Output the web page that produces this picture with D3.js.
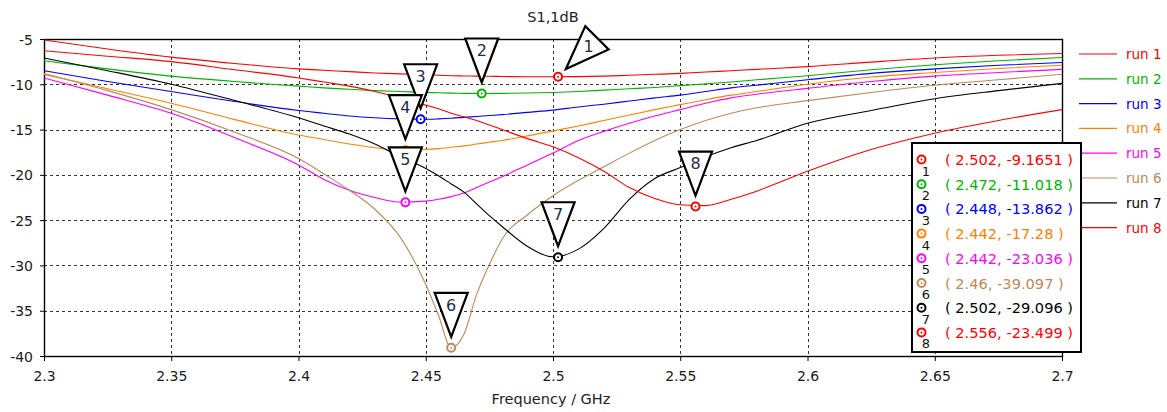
<!DOCTYPE html>
<html><head><meta charset="utf-8">
<script src="https://cdn.jsdelivr.net/npm/d3@7"></script>
<style>
html,body{margin:0;padding:0;background:#fff;}
svg{display:block;font-family:"DejaVu Sans",sans-serif;}
</style></head>
<body><svg id="chart" width="1167" height="412"></svg>
<script>
const freq = [2.30, 2.325, 2.35, 2.375, 2.40, 2.41, 2.42, 2.43, 2.44, 2.45, 2.455, 2.46, 2.465, 2.47, 2.475, 2.48, 2.49, 2.50, 2.51, 2.52, 2.53, 2.54, 2.55, 2.56, 2.57, 2.58, 2.60, 2.625, 2.65, 2.675, 2.70];
const run1 = [-5.1, -6.1, -7.0, -7.7, -8.3, -8.45, -8.6, -8.75, -8.85, -8.95, -9.0, -9.05, -9.08, -9.1, -9.12, -9.14, -9.16, -9.165, -9.15, -9.1, -9.0, -8.9, -8.8, -8.65, -8.5, -8.35, -8.05, -7.55, -7.1, -6.8, -6.6];
const run2 = [-7.4, -8.3, -9.1, -9.7, -10.2, -10.4, -10.55, -10.7, -10.8, -10.9, -10.94, -10.98, -11.0, -11.01, -11.018, -11.0, -10.97, -10.9, -10.8, -10.65, -10.5, -10.35, -10.15, -9.95, -9.75, -9.5, -9.05, -8.4, -7.85, -7.4, -7.05];
const run3 = [-8.5, -9.7, -10.8, -11.9, -12.9, -13.2, -13.5, -13.7, -13.82, -13.86, -13.82, -13.75, -13.65, -13.55, -13.45, -13.35, -13.1, -12.85, -12.5, -12.2, -11.85, -11.5, -11.2, -10.8, -10.4, -10.1, -9.5, -8.8, -8.3, -7.9, -7.6];
const run4 = [-8.9, -10.5, -12.1, -13.9, -15.6, -16.1, -16.6, -17.0, -17.27, -17.2, -17.1, -16.95, -16.8, -16.6, -16.4, -16.2, -15.7, -15.15, -14.6, -14.0, -13.4, -12.8, -12.25, -11.7, -11.2, -10.8, -10.0, -9.2, -8.7, -8.25, -7.9];
const run5 = [-9.3, -11.2, -13.2, -15.9, -18.9, -20.5, -21.7, -22.5, -23.0, -22.9, -22.7, -22.4, -22.0, -21.4, -20.8, -20.2, -18.9, -17.6, -16.2, -15.2, -14.3, -13.5, -12.8, -12.1, -11.5, -11.1, -10.45, -9.7, -9.1, -8.7, -8.35];
const run6 = [-8.8, -10.7, -12.8, -15.3, -18.2, -19.9, -21.7, -23.8, -26.9, -32.1, -35.5, -39.1, -37.6, -33.2, -29.9, -27.1, -24.4, -22.3, -20.6, -19.1, -17.6, -16.2, -15.0, -14.0, -13.2, -12.6, -11.8, -10.9, -10.1, -9.5, -8.9];
const run7 = [-7.1, -8.5, -10.0, -11.8, -13.7, -14.6, -15.5, -16.6, -18.0, -19.3, -20.1, -21.0, -21.9, -23.2, -24.5, -25.7, -27.9, -29.05, -28.2, -25.9, -22.7, -20.4, -19.2, -18.0, -17.0, -16.2, -14.3, -12.9, -11.6, -10.7, -9.9];
const run8 = [-6.3, -6.9, -7.5, -8.4, -9.3, -9.75, -10.2, -10.8, -11.5, -12.3, -12.7, -13.2, -13.6, -14.0, -14.5, -15.0, -16.0, -16.9, -18.1, -19.6, -21.4, -22.6, -23.3, -23.4, -22.7, -21.8, -19.6, -17.2, -15.4, -14.0, -12.8];
const runs = [run1, run2, run3, run4, run5, run6, run7, run8];
const runNames = ["run 1", "run 2", "run 3", "run 4", "run 5", "run 6", "run 7", "run 8"];
const runColors = ["#ff0000", "#00b400", "#0000ff", "#ff8000", "#ff00ff", "#bc8a58", "#000000", "#ff0000"];

const markerFreq = [2.502, 2.472, 2.448, 2.442, 2.442, 2.46, 2.502, 2.556];
const markerVal = [-9.1651, -11.018, -13.862, -17.28, -23.036, -39.097, -29.096, -23.499];
const markerAngle = [45, 0, 0, 0, 0, 0, 0, 0];

const xTicks = [2.3, 2.35, 2.4, 2.45, 2.5, 2.55, 2.6, 2.65, 2.7];
const yTicks = [-5, -10, -15, -20, -25, -30, -35, -40];
const titleText = "S1,1dB";
const xLabel = "Frequency / GHz";

const svg = d3.select("#chart");
const L = 44, R = 1062, T = 39, B = 356;
const x = d3.scaleLinear([2.3, 2.7], [L, R]);
const y = d3.scaleLinear([-5, -40], [T, B]);

// grid
const grid = svg.append("g");
grid.selectAll("line.gx").data(xTicks.slice(1, -1)).join("line")
  .attr("x1", d => Math.round(x(d)) + 0.5).attr("x2", d => Math.round(x(d)) + 0.5)
  .attr("y1", T).attr("y2", B)
  .attr("stroke", "#333").attr("stroke-width", 1).attr("stroke-dasharray", "3,3");
grid.selectAll("line.gy").data(yTicks.slice(1, -1)).join("line")
  .attr("y1", d => Math.round(y(d)) + 0.5).attr("y2", d => Math.round(y(d)) + 0.5)
  .attr("x1", L).attr("x2", R)
  .attr("stroke", "#333").attr("stroke-width", 1).attr("stroke-dasharray", "3,3");

// axes
const xAxis = svg.append("g").attr("transform", `translate(0,${B})`)
  .call(d3.axisBottom(x).tickValues(xTicks).tickFormat(d => String(d)).tickSize(5).tickPadding(10));
const yAxis = svg.append("g").attr("transform", `translate(${L},0)`)
  .call(d3.axisLeft(y).tickValues(yTicks).tickFormat(d => String(d)).tickSize(4).tickPadding(7));
[xAxis, yAxis].forEach(g => {
  g.select(".domain").remove();
  g.selectAll(".tick line").attr("stroke", "#000");
  g.selectAll(".tick text").attr("fill", "#1a1a1a").style("font-size", "14px").style("font-family", "DejaVu Sans");
});
yAxis.selectAll(".tick text").attr("dy", "0.36em");

// frame
svg.append("rect").attr("x", L + 0.5).attr("y", T + 0.5).attr("width", R - L).attr("height", B - T)
  .attr("fill", "none").attr("stroke", "#000").attr("stroke-width", 1.4);

// curves
const line = d3.line().x(d => x(d[0])).y(d => y(d[1])).curve(d3.curveMonotoneX);
svg.append("clipPath").attr("id", "plotclip").append("rect")
  .attr("x", L).attr("y", T).attr("width", R - L).attr("height", B - T);
const curves = svg.append("g").attr("clip-path", "url(#plotclip)");
runs.forEach((vals, i) => {
  curves.append("path").datum(freq.map((f, k) => [f, vals[k]]))
    .attr("d", line).attr("fill", "none").attr("stroke", runColors[i]).attr("stroke-width", 1.1);
});

// legend
const legend = svg.append("g");
runNames.forEach((n, i) => {
  const ly = 54 + i * 24.8;
  legend.append("line").attr("x1", 1079).attr("x2", 1117).attr("y1", ly).attr("y2", ly)
    .attr("stroke", runColors[i]).attr("stroke-width", 1.2);
  legend.append("text").attr("x", 1126).attr("y", ly + 5).text(n)
    .attr("fill", runColors[i]).style("font-size", "13.5px");
});

// markers
function markerIcon(g, cx, cy, color) {
  g.append("circle").attr("cx", cx).attr("cy", cy).attr("r", 4).attr("fill", "#fff")
    .attr("stroke", color).attr("stroke-width", 2);
  g.append("circle").attr("cx", cx).attr("cy", cy).attr("r", 1).attr("fill", color);
}
const mk = svg.append("g");
markerFreq.forEach((f, i) => markerIcon(mk, x(f), y(markerVal[i]), runColors[i]));

// callout triangles
markerFreq.forEach((f, i) => {
  const mx = x(f), my = y(markerVal[i]);
  const g = svg.append("g").attr("transform", `translate(${mx},${my}) rotate(${markerAngle[i]})`);
  g.append("path").attr("d", "M0,-11 L-16.5,-55 L16.5,-55 Z")
    .attr("fill", "#fff").attr("stroke", "#000").attr("stroke-width", 2.2).attr("stroke-linejoin", "miter");
  const a = markerAngle[i] * Math.PI / 180;
  const lx = mx + Math.sin(a) * 43, ly = my - Math.cos(a) * 43;
  svg.append("text").attr("x", lx).attr("y", ly).attr("dy", "0.36em").attr("text-anchor", "middle")
    .attr("fill", "#1f2d4a").style("font-size", "16px").text(String(i + 1));
});

// marker box
const box = svg.append("g");
box.append("rect").attr("x", 912).attr("y", 143).attr("width", 169).attr("height", 209)
  .attr("fill", "#fff").attr("stroke", "#000").attr("stroke-width", 2);
markerFreq.forEach((f, i) => {
  const ry = 159.5 + i * 24.7;
  markerIcon(box, 921.5, ry, runColors[i]);
  box.append("text").attr("x", 926).attr("y", ry + 16).attr("text-anchor", "middle")
    .attr("fill", "#111").style("font-size", "13px").text(String(i + 1));
  box.append("text").attr("x", 945).attr("y", ry + 5.5)
    .attr("fill", runColors[i]).style("font-size", "14.6px")
    .text(`( ${f}, ${markerVal[i]} )`);
});

// titles
svg.append("text").attr("x", 553).attr("y", 22).attr("text-anchor", "middle")
  .attr("fill", "#222").style("font-size", "14.5px").text(titleText);
svg.append("text").attr("x", 551).attr("y", 404).attr("text-anchor", "middle")
  .attr("fill", "#222").style("font-size", "14.5px").text(xLabel);
</script></body></html>
